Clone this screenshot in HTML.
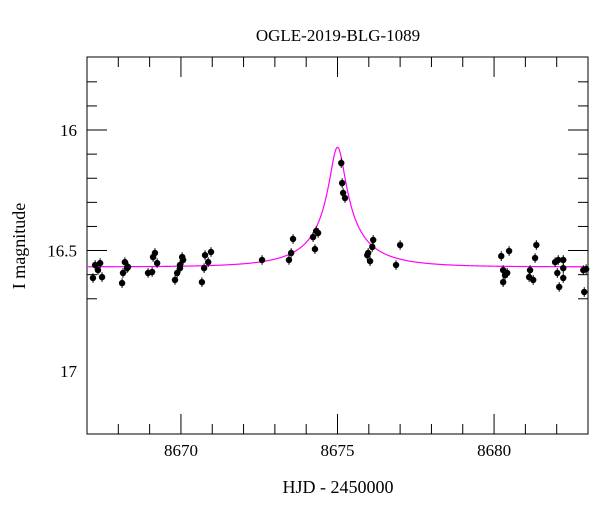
<!DOCTYPE html>
<html><head><meta charset="utf-8"><style>
body{margin:0;background:#fff;}
svg text{font-family:"Liberation Serif",serif;fill:#000;}
</style></head><body>
<svg id="c" width="600" height="512">
<text x="338" y="41" font-size="17" text-anchor="middle">OGLE-2019-BLG-1089</text>
<text x="338" y="493" font-size="18" text-anchor="middle">HJD - 2450000</text>
<text transform="translate(25,246) rotate(-90)" font-size="18" text-anchor="middle">I magnitude</text>
</svg>
<script>
const times=[8667.19,8667.26,8667.42,8667.35,8667.48,8668.12,8668.15,8668.21,8668.28,8668.31,8668.95,8669.08,8669.11,8669.17,8669.24,8669.81,8669.88,8669.97,8670.04,8670.07,8669.97,8670.67,8670.74,8670.77,8670.87,8670.96,8672.59,8673.45,8673.52,8673.58,8674.22,8674.28,8674.38,8674.32,8675.12,8675.15,8675.18,8675.24,8675.95,8675.98,8676.04,8676.11,8676.14,8677.00,8676.87,8680.23,8680.48,8680.29,8680.35,8680.29,8680.42,8681.35,8681.31,8681.15,8681.12,8681.25,8681.95,8682.05,8682.21,8682.02,8682.21,8682.08,8682.21,8682.85,8682.88,8682.94];
const mags=[16.614,16.560,16.552,16.581,16.610,16.635,16.593,16.548,16.573,16.568,16.593,16.589,16.527,16.510,16.552,16.622,16.593,16.560,16.527,16.539,16.573,16.631,16.573,16.519,16.548,16.506,16.539,16.539,16.510,16.452,16.444,16.494,16.427,16.419,16.137,16.220,16.261,16.282,16.519,16.510,16.544,16.485,16.456,16.477,16.560,16.523,16.502,16.581,16.602,16.631,16.593,16.477,16.531,16.581,16.610,16.622,16.548,16.539,16.539,16.593,16.614,16.651,16.573,16.581,16.672,16.577];
const errs=[0.02];
const xTicks=[8670,8675,8680];
const yTicks=[16,16.5,17];
const model={t0:8675.0,tE:2.12,u0:0.122,fs:0.08,I0:16.568};
const X0=87,X1=588,Y0=57,Y1=434,tMin=8667,tMax=8683,mMin=15.697,mMax=17.261;
const sx=t=>X0+(t-tMin)/(tMax-tMin)*(X1-X0);
const sy=m=>Y0+(m-mMin)/(mMax-mMin)*(Y1-Y0);
const NS='http://www.w3.org/2000/svg',svg=document.getElementById('c');
function mk(tag,a){const e=document.createElementNS(NS,tag);for(const k in a)e.setAttribute(k,a[k]);svg.appendChild(e);return e;}
const fr=mk('rect',{x:X0,y:Y0,width:X1-X0,height:Y1-Y0,fill:'none',stroke:'#000','stroke-width':1});


for(let t=tMin;t<=tMax;t++){const major=xTicks.includes(t);const L=major?20:10;const x=sx(t);
 const a=mk('line',{x1:x,x2:x,y1:Y1,y2:Y1-L,stroke:'#000'});
 
 
 const b=mk('line',{x1:x,x2:x,y1:Y0,y2:Y0+L,stroke:'#000'});
 
 }
xTicks.forEach(t=>{const e=mk('text',{x:sx(t),y:Y1+22,'font-size':17,'text-anchor':'middle'});e.textContent=t;
 
 });
for(let i=8;i<=17;i++){const m=i/10+15;if(m<mMin||m>mMax)continue;const major=yTicks.some(v=>Math.abs(v-m)<1e-6);const L=major?20:10;const y=sy(m);
 const a=mk('line',{x1:X0,x2:X0+L,y1:y,y2:y,stroke:'#000'});
 
 
 const b=mk('line',{x1:X1,x2:X1-L,y1:y,y2:y,stroke:'#000'});
 
 }
yTicks.forEach(m=>{const e=mk('text',{x:X0-10,y:sy(m)+6,'font-size':17,'text-anchor':'end'});e.textContent=m;
 
 });
function magAt(t){const tau=(t-model.t0)/model.tE;const u=Math.sqrt(model.u0*model.u0+tau*tau);const A=(u*u+2)/(u*Math.sqrt(u*u+4));return model.I0-2.5*Math.log10(model.fs*A+1-model.fs);}
let d='';for(let i=0;i<=2000;i++){const t=tMin+(tMax-tMin)*i/2000;d+=(i?'L':'M')+sx(t).toFixed(2)+','+sy(magAt(t)).toFixed(2);}
const p=mk('path',{d:d,fill:'none',stroke:'#ff00ff','stroke-width':1.2});


times.forEach((t,i)=>{const x=sx(t),y=sy(mags[i]);const e=errs[i%errs.length];
 const l=mk('line',{x1:x,x2:x,y1:sy(mags[i]-e),y2:sy(mags[i]+e),stroke:'#000','stroke-width':1});
 
 
 const c=mk('circle',{cx:x,cy:y,r:3.2,fill:'#000'});
 
 });
</script>
</body></html>
